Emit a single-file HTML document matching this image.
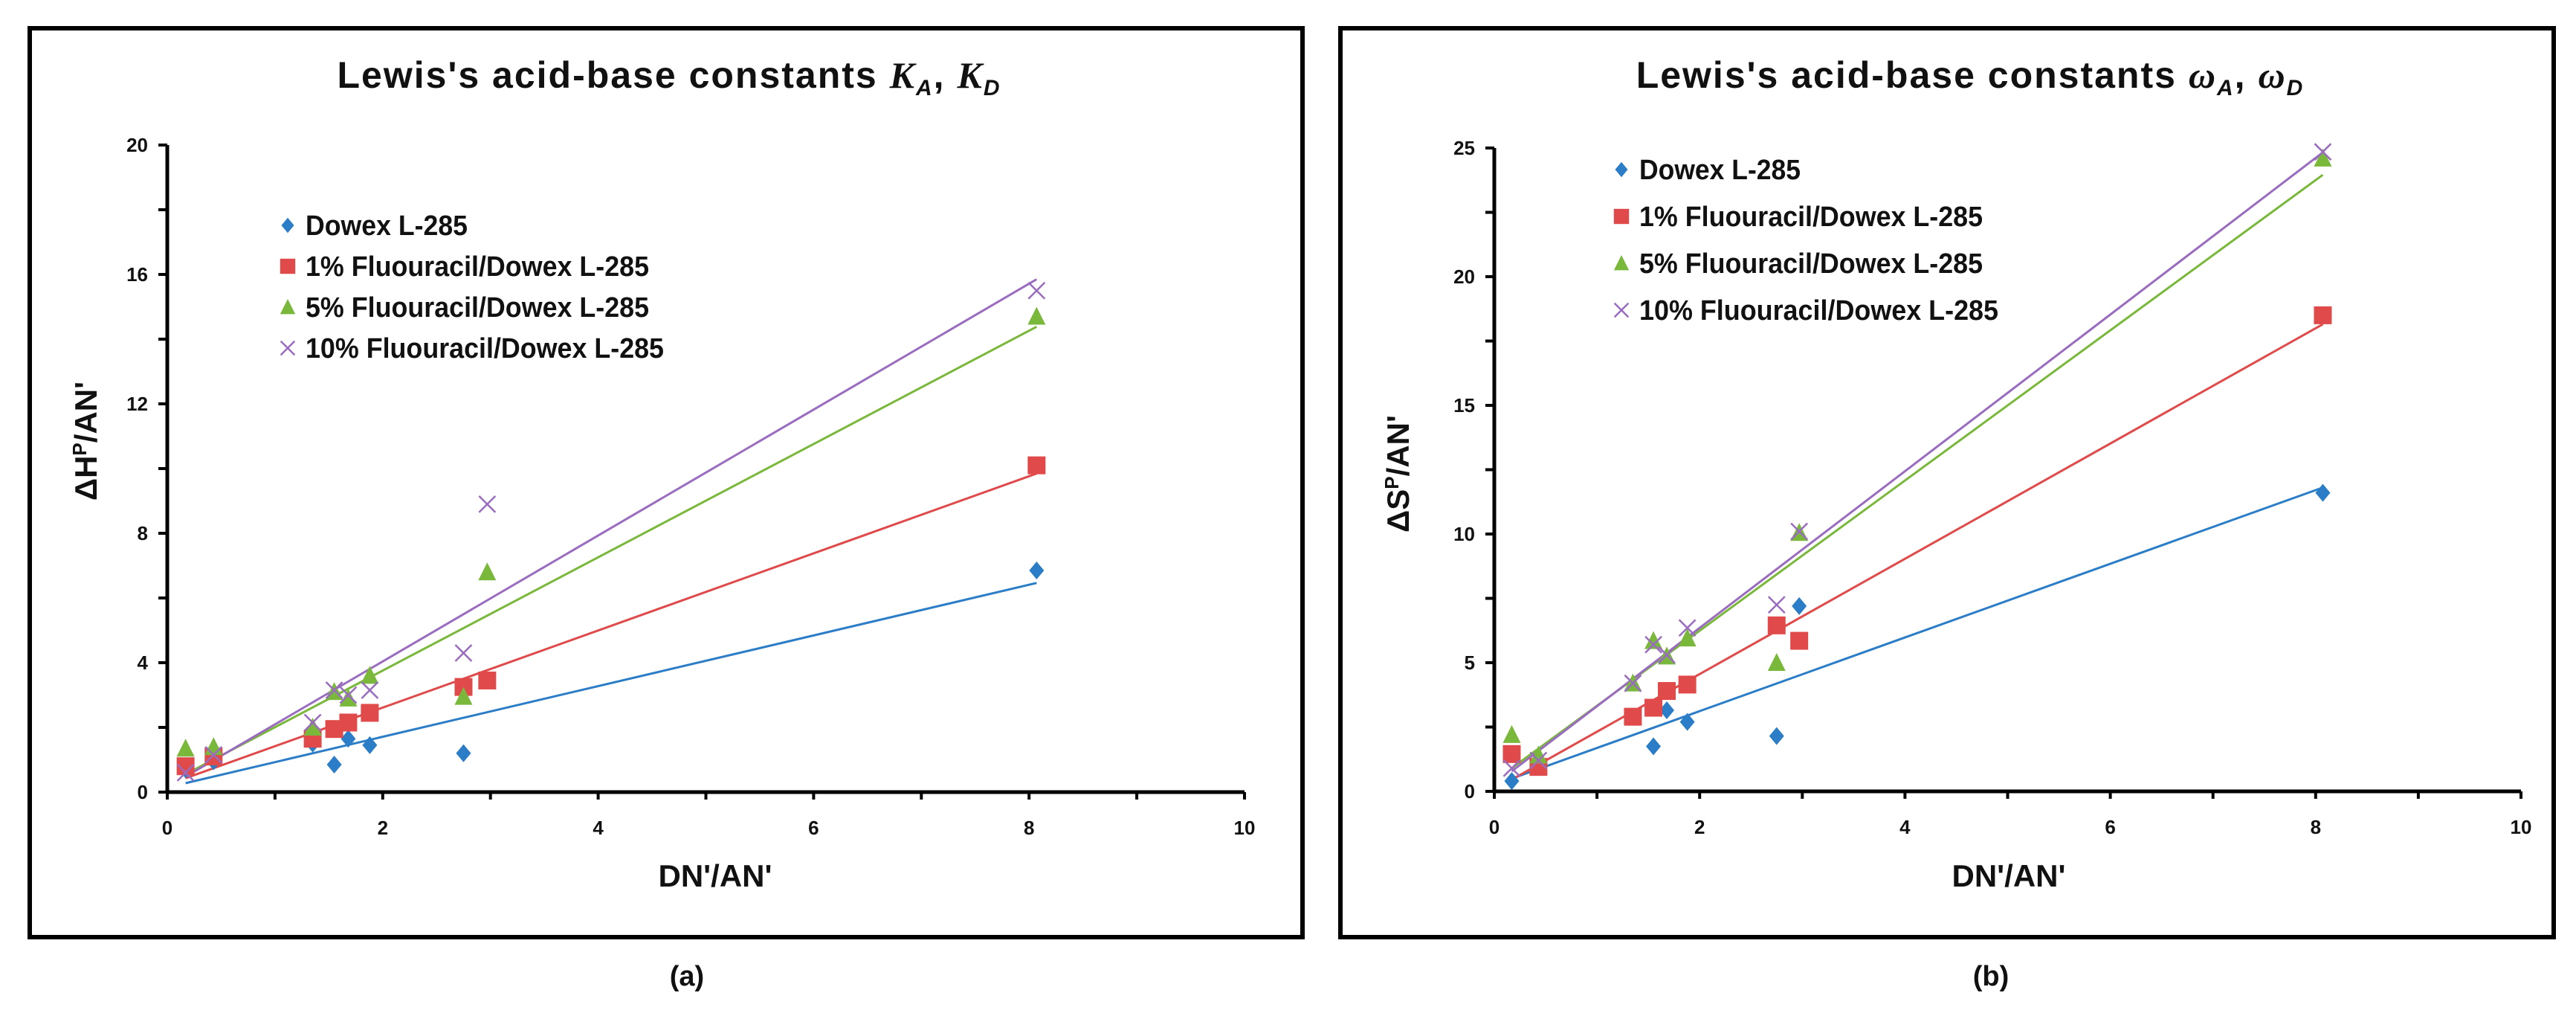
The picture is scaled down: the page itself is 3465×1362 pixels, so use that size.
<!DOCTYPE html>
<html><head><meta charset="utf-8"><style>
html,body{margin:0;padding:0;background:#fff;}
svg{display:block;font-family:"Liberation Sans",sans-serif;}
</style></head><body>
<svg id="chart" width="3465" height="1362" viewBox="0 0 3465 1362" xmlns="http://www.w3.org/2000/svg">
<rect x="0" y="0" width="3465" height="1362" fill="#fff"/>
</svg>
<script>
const seriesNames = ["Dowex L-285","1% Fluouracil/Dowex L-285","5% Fluouracil/Dowex L-285","10% Fluouracil/Dowex L-285"];
const xValues = [0.17,0.43,1.35,1.55,1.68,1.88,2.75,2.97,8.07];
const aDowex = [0.7,0.95,1.5,0.85,1.65,1.45,1.2,null,6.85];
const a1pct = [0.8,1.1,1.65,1.95,2.15,2.45,3.25,3.45,10.1];
const a5pct = [1.35,1.4,2.0,3.1,2.9,3.6,2.95,6.8,14.7];
const a10pct = [0.6,1.15,2.15,3.15,3.0,3.15,4.3,8.9,15.5];
const bDowex = [0.4,1.0,null,1.75,3.15,2.7,2.15,7.2,11.6];
const b1pct = [1.45,0.95,2.9,3.25,3.9,4.15,6.45,5.85,18.5];
const b5pct = [2.2,1.4,4.2,5.85,5.25,5.95,5.0,10.05,24.6];
const b10pct = [0.9,1.2,4.2,5.7,5.3,6.35,7.25,10.1,24.85];
const xTicks = [0,2,4,6,8,10];
const aYTicks = [0,4,8,12,16,20];
const bYTicks = [0,5,10,15,20,25];

const NS="http://www.w3.org/2000/svg";
const svg=document.getElementById('chart');
const colors=["#2a7dc6","#e04a4a","#7ab83c","#9a6cc0"];
function mk(tag,attrs,parent){const e=document.createElementNS(NS,tag);for(const k in attrs)e.setAttribute(k,attrs[k]);(parent||svg).appendChild(e);return e;}
function fit(xs,ys){let n=0,sx=0,sy=0,sxx=0,sxy=0;for(let i=0;i<xs.length;i++){if(ys[i]==null)continue;n++;sx+=xs[i];sy+=ys[i];sxx+=xs[i]*xs[i];sxy+=xs[i]*ys[i];}const m=(n*sxy-sx*sy)/(n*sxx-sx*sx);return [m,(sy-m*sx)/n];}

function panel(cfg){
  const g=mk('g',{});
  
  
  const fr=mk('rect',{x:cfg.fx,y:38,width:cfg.fw,height:1222,fill:'none',stroke:'#000','stroke-width':6},g);
  
  const X=v=>cfg.x0+(cfg.x1-cfg.x0)*v/10;
  const Y=v=>cfg.y0-(cfg.y0-cfg.yTop)*v/cfg.ymax;
  const t=mk('text',{x:cfg.tx,y:118,'font-size':50,'font-weight':'bold','text-anchor':'middle',fill:'#111','letter-spacing':'2'},g);
  
  t.textContent="Lewis's  acid-base  constants  ";
  const s1=mk('tspan',{'font-style':'italic','font-family':'Liberation Serif, serif'},t);s1.textContent=cfg.sym;
  const s2=mk('tspan',{'font-size':30,dy:10,'font-style':'italic'},t);s2.textContent='A';
  const s3=mk('tspan',{dy:-10},t);s3.textContent=',  ';
  const s4=mk('tspan',{'font-style':'italic','font-family':'Liberation Serif, serif'},t);s4.textContent=cfg.sym;
  const s5=mk('tspan',{'font-size':30,dy:10,'font-style':'italic'},t);s5.textContent='D';
  const ax=mk('line',{x1:cfg.x0,y1:cfg.y0,x2:cfg.x1,y2:cfg.y0,stroke:'#000','stroke-width':5},g);
  
  const ay=mk('line',{x1:cfg.x0,y1:cfg.y0+2,x2:cfg.x0,y2:cfg.yTop,stroke:'#000','stroke-width':5},g);
  
  for(let v=0;v<=10;v++){mk('line',{x1:X(v),y1:cfg.y0,x2:X(v),y2:cfg.y0+10,stroke:'#000','stroke-width':4},g);}
  xTicks.forEach(v=>{const l=mk('text',{x:X(v),y:cfg.y0+57,'font-size':26,'font-weight':'bold','text-anchor':'middle',fill:'#111'},g);
    l.textContent=v;});
  for(let v=0;v<=cfg.ymax+1e-9;v+=cfg.minor){mk('line',{x1:cfg.x0-12,y1:Y(v),x2:cfg.x0,y2:Y(v),stroke:'#000','stroke-width':4},g);}
  cfg.yt.forEach(v=>{const l=mk('text',{x:cfg.x0-26,y:Y(v)+9,'font-size':26,'font-weight':'bold','text-anchor':'end',fill:'#111'},g);
    l.textContent=v;});
  const xl=mk('text',{x:cfg.xlx,y:1192,'font-size':42,'font-weight':'bold','text-anchor':'middle',fill:'#111'},g);
  xl.textContent="DN'/AN'";
  const yl=mk('text',{x:0,y:0,'font-size':42,'font-weight':'bold','text-anchor':'middle',fill:'#111',transform:`translate(${cfg.ylx},${cfg.yly}) rotate(-90)`},g);
  
  yl.textContent="Δ"+cfg.q;const sp=mk('tspan',{'font-size':26,dy:-14},yl);sp.textContent='P';const r=mk('tspan',{dy:14},yl);r.textContent="/AN'";
  cfg.series.forEach((ys,si)=>{
    const [m,b]=fit(xValues,ys);
    const ln=mk('line',{x1:X(xValues[0]),y1:Y(m*xValues[0]+b),x2:X(xValues[8]),y2:Y(m*xValues[8]+b),stroke:colors[si],'stroke-width':3},g);
    
  });
  cfg.series.forEach((ys,si)=>{
    ys.forEach((v,i)=>{if(v==null)return;const el=marker(si,X(xValues[i]),Y(v),g);
      });
  });
  seriesNames.forEach((nm,i)=>{
    const ly=cfg.ly+i*cfg.lstep;
    const mm=marker(i,cfg.lx,ly,g,0.85);
    const tx=mk('text',{x:cfg.lx+24,y:ly+13,'font-size':38,fill:'#111','font-weight':'bold',textLength:cfg.lw[i],lengthAdjust:'spacingAndGlyphs'},g);
    tx.textContent=nm;
  });
  const cap=mk('text',{x:cfg.capx,y:1325,'font-size':38,'font-weight':'bold','text-anchor':'middle',fill:'#111'},g);
  cap.textContent=cfg.cap;
}
function marker(si,x,y,g,s){s=s||1;const c=colors[si];
  if(si===0)return mk('polygon',{points:`${x},${y-12*s} ${x+10*s},${y} ${x},${y+12*s} ${x-10*s},${y}`,fill:c},g);
  if(si===1)return mk('rect',{x:x-12*s,y:y-12*s,width:24*s,height:24*s,fill:c},g);
  if(si===2)return mk('polygon',{points:`${x},${y-13*s} ${x+12*s},${y+11*s} ${x-12*s},${y+11*s}`,fill:c},g);
  const p=mk('path',{d:`M${x-11*s},${y-11*s}L${x+11*s},${y+11*s}M${x+11*s},${y-11*s}L${x-11*s},${y+11*s}`,stroke:c,'stroke-width':2.5,fill:'none'},g);return p;}

panel({name:'panel-a',fx:40,fw:1712,x0:225,x1:1674,y0:1065,yTop:195,ymax:20,minor:2,yt:aYTicks,tx:900,sym:'K',
  q:'H',xlx:962,ylx:130,yly:593,series:[aDowex,a1pct,a5pct,a10pct],lx:387,ly:303,lstep:55,lw:[218,462,462,482],capx:924,cap:'(a)'});
panel({name:'panel-b',fx:1803,fw:1632,x0:2010,x1:3391,y0:1064,yTop:199,ymax:25,minor:2.5,yt:bYTicks,tx:2650,sym:'ω',
  q:'S',xlx:2702,ylx:1895,yly:637,series:[bDowex,b1pct,b5pct,b10pct],lx:2181,ly:228,lstep:63,lw:[217,462,462,483],capx:2678,cap:'(b)'});
</script>
</body></html>
